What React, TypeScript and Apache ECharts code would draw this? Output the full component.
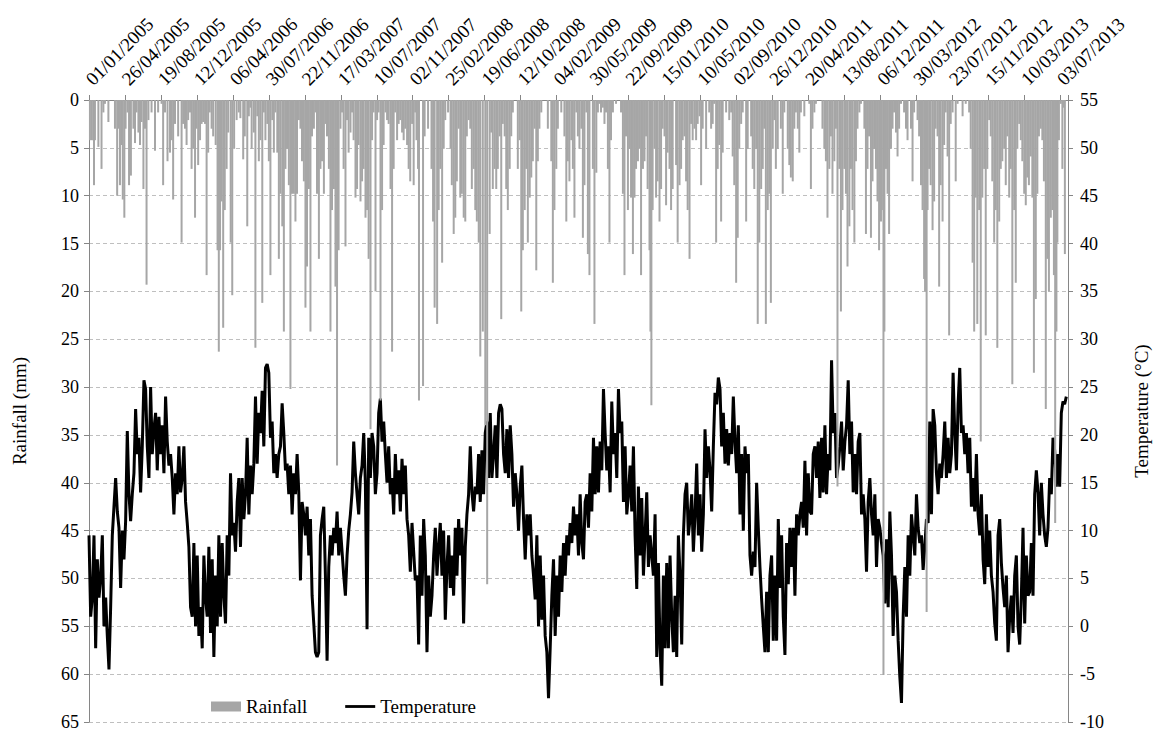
import React, { useEffect, useRef } from "react";
import * as echarts from "echarts";

// Day 0 = 01/01/2005; x values are day offsets from that date.
const START_DATE_UTC = Date.UTC(2005, 0, 1);
const TOTAL_DAYS = 3130;
const LABEL_EVERY_DAYS = 115;
// temperature readings are taken about every 5.32 days
const TEMP_STEP_DAYS = 5.323;

// Temperature (°C)
const tempSeg1 = [
  9.5, 1, 3, 9.5, -2.3, 7, 3, 5, 9.5, 0,
  3, -1, -4.5, 2, 9.5, 12.5, 15.5, 12, 10.3, 4,
  10, 7, 11, 20.4, 13.8, 11, 13.8, 16, 22.7, 18,
  19.7, 14, 18.8, 25.7, 24.8, 18.8, 15.5, 25, 18, 20.6,
  22.3, 16.3, 21.9, 18, 21, 16, 24, 19.3, 16.8, 18,
  15.5, 11.7, 16, 13.8, 18.8, 14, 15.5, 18.8, 13, 10.8,
  8.3, 2, 1, 8.7, 0, 7.4, -1, 2, -2.3, 7.4,
  3, 1, 8.3, -0.7, 7, -3.2, 5.3, 0, 9.5, 1,
  8.7, 3.2, 0.3, 9.5, 5.3, 16, 9.5, 10.8, 7.8, 13,
  15.5, 8.3, 15.5, 11.2, 13.8, 19.7, 11.7, 16.8,
];
const tempSeg2 = [
  13.8, 17, 24, 17, 22.3, 20.2, 24.6, 18.8, 27, 27.4,
  26.5, 19.7, 21.4, 16, 18, 15.5, 18, 18.8, 23.3, 20.2,
  16.3, 17, 13.8, 16.8, 11.7, 16, 13.8, 18, 14, 4.8,
  13, 11.7, 9.5, 12.5, 7.4, 11.2, 3.2, 0.3, -2.7, -3.2,
  -2.7, 9.5, 11.2, 12.5, 5.3, -3.6, 6.2, 9.5, 7.4, 10.3,
  8.7, 12, 7.4, 10.3, 7.8, 5.3, 3.2, 7.4, 10, 11.7,
  14, 19.3, 16, 13.8, 11.7, 15.5, 16.8, 20.2, 15, -0.3,
  19.7, 15.5, 20.2, 18.8, 13.8, 16, 22.3, 23.8, 19.3, 21.4,
  18, 15, 18.8, 13.8, 15.5, 11.7, 18, 13.8, 16.3, 12,
  17.5, 13.8, 16.8, 11.2, 9.5, 5.7, 10.8, 7.8, 4.8,
];
const tempSeg3 = [
  5.3, -1.9, 9.5, 3.2, 11.2, 7.4, -2.7, 5.3, 1, 3.2,
  7.4, 10.3, 5.3, 8.3, 10.8, 5.3, 10, 0.7, 6.2, 9.5,
  4, 7.4, 3.2, 10.3, 5.3, 11.2, 7.4, 10.3, 0.3, 8.3,
  11.7, 13.8, 18.8, 14, 12, 14.6, 13.8, 18, 13, 18.4,
  13.8, 20.2, 21.4, 15.5, 22.3, 15.5, 18, 21, 15.5, 22.3,
  23.2, 22.7, 18, 16, 20.6, 15.5, 21, 18, 12.5, 16,
  13.8, 10, 14.6, 16.8, 11.2, 7, 11.7, 9.5, 11.7, 7.4,
  5.3, 2.8, 9.5, 0, 7.4, 0.7, 5.3, -1, -2.7, -7.5,
  -2.3, 3.2, 7, -1, 5.3, 1, 7.4, 3.6, 8.7, 5.3,
  9.5, 7.4, 10.8, 8.7, 12.5, 9.5, 11.7, 7.4, 13.8,
];
const tempSeg4 = [
  8.7, 7, 13, 13.8, 10.3, 16, 12, 19.7, 13.8, 18.8,
  14, 19.3, 16.3, 24.8, 20.2, 16.3, 18.8, 14, 23.5, 18,
  20.2, 15.5, 24.8, 20.2, 21.4, 13, 18.8, 11.7, 13.8, 16.8,
  12, 18.8, 9.5, 3.9, 14.6, 7.4, 13.4, 5.3, 9.5, 14,
  6.2, 9.5, 7.4, 5.3, 11.7, -3.2, 6.6, -2.3, -6.2, 5.3,
  -2.3, 6.6, -2.3, 7.4, 1, -2.7, 3.2, -3.2, 9.5, 5.3,
  -1.9, 9.5, 13.8, 15, 9.5, 11.2, 13.8, 7.8, 11.7, 17,
  9.5, 13.8, 7.8, 11.7, 20.6, 15.5, 18.8, 16.3, 12, 18.8,
  24.4, 23.2, 26, 24.8, 18.8, 22.3, 17, 20.6, 16.8, 20.2,
  18, 24, 19.3, 16, 21, 11.7, 18, 10, 18.8,
];
const tempSeg5 = [
  16, 18, 7.4, 5.3, 7.8, 6.2, 15, 10.3, 6.2, 2.8,
  0, -2.7, 3.6, -2.7, 5.3, 7.4, -1.5, 5.3, -1.5, 11.2,
  4, 9.5, 1, -3, 8.7, 4.4, 10.3, 6.2, 10.3, 3.2,
  11.7, 9.5, 11.7, 13, 10.3, 17.3, 9.5, 16, 12, 11.7,
  18, 18.8, 15.5, 19.3, 13.4, 19.7, 14, 21, 13.8, 18,
  16.3, 27.8, 20.2, 22.3, 15.5, 16.8, 18.8, 21.4, 16.3, 19.3,
  21, 25.7, 18, 21.4, 14, 18, 13.8, 19.3, 20.2, 11.7,
  13.8, 11.2, 5.7, 13, 15.5, 11.7, 9.5, 13.8, 6.2, 11.2,
  10.3, 8.7, 7.4, 2.4, 9.1, 2, 12, 7.4, -1, 5.3,
  3.6, -1.5, -5.3, -8, 1, 6.2, 1, 9.5, 5.3,
];
const tempSeg6 = [
  11.7, 9.5, 7.4, 13.8, 10.3, 8.7, 9.5, 5.9, 8.3, 11.2,
  10.8, 21.4, 11.7, 22.7, 21, 16, 13.8, 17, 15.5, 18,
  21.4, 15.5, 19.7, 16, 18, 26.5, 20.2, 16.3, 23.2, 27,
  20.2, 21, 18, 20.2, 16, 19.7, 12.5, 15.5, 12, 18,
  11.7, 9.5, 13.8, 7, 4.4, 11.7, 6.2, 10, 5.3, 3.6,
  0.3, -1.5, 9.5, 11.2, 6.6, 4, 2, 5.3, -2.7, 1,
  3.2, -0.7, 5.3, 7.4, 0, -1.9, 3.2, 10.3, 0.3, 7.4,
  3.2, 3.6, 8.7, 3.2, 13.8, 16.3, 14, 9.5, 15, 11.7,
  9.5, 8.3, 10.3, 15.5, 13.8, 19.7, 18.4, 14.6, 18, 14.6,
  22.3, 23.5, 23.2, 24,
];

// Rainfall: [day offset, mm]
const rainSeg1 = [
  [3,4.2],[9,4.2],[14,4.2],[16,8.9],[19,4.2],[30,4.9],[40,7.2],[46,1.3],[51,0.4],[62,2.3],[83,3.0],[90,10.0],[94,3.0],[99,8.9],[104,4.7],[108,10.4],[113,12.3],[117,3.0],[123,1.3],[128,8.9],[134,7.9],[142,3.0],[147,4.5],[152,1.3],[158,3.4],[163,4.7],[168,2.3],[174,9.3],[179,3.0],[184,19.3],[190,2.1],[200,1.3],[211,5.3],[221,1.3],[232,0.4],[237,8.9],[243,1.3],[251,6.4],[259,5.5],[264,4.2],[269,10.4],[275,2.5],[285,3.8],[296,14.9],[301,2.5],[307,3.0],[312,4.7],[317,2.1],[323,1.3],[328,7.2],[333,5.1],[339,12.3],[344,3.0],[349,6.8],[355,4.2],[360,2.5],[365,2.3],[371,2.5],[376,18.3],[381,5.5],[386,1.3],[392,3.0],[397,3.8],[405,4.7],[411,15.7],[415,26.3],[419,15.7],[424,10.6],[429,23.8],[434,11.5],[440,7.2],[445,3.4],[453,14.9],[458,20.4],[464,5.1],[472,2.1],[479,1.3],[484,1.9],[493,6.2],[498,3.8],[506,13.2],[511,1.7],[516,0.8],
];
const rainSeg2 = [
  [520,5.1],[527,3.4],[532,25.9],[538,1.7],[543,6.4],[548,4.2],[554,21.2],[559,1.3],[564,4.2],[570,2.5],[575,6.4],[580,18.3],[586,2.1],[591,5.5],[596,1.3],[602,5.5],[607,16.6],[612,9.8],[618,13.2],[623,24.2],[628,7.2],[633,5.1],[639,8.9],[644,30.2],[649,9.8],[655,9.8],[660,12.7],[665,9.8],[671,2.1],[676,3.0],[681,6.4],[687,8.5],[692,21.7],[697,17.4],[703,9.3],[708,24.2],[713,3.8],[719,3.0],[724,1.3],[729,9.8],[735,16.6],[740,7.2],[745,6.4],[751,9.8],[756,2.5],[761,3.8],[767,7.2],[772,24.2],[777,11.5],[783,9.3],[788,19.5],[793,38.2],[798,15.7],[804,3.0],[809,1.3],[814,7.2],[820,15.3],[825,2.1],[830,5.5],[836,3.4],[841,1.3],[846,4.2],[852,10.2],[857,9.3],[862,4.7],[868,10.6],[873,8.5],[878,7.2],[884,12.3],[889,11.5],[894,16.6],[900,34.4],[905,4.2],[910,1.3],[916,20.0],[921,2.1],[926,1.3],[932,31.4],[937,11.5],[942,4.7],[948,1.3],[953,2.1],[958,2.5],[964,9.3],[969,26.3],[974,7.2],[979,1.3],[985,4.2],[990,2.5],[995,2.1],[1001,3.4],[1006,4.2],[1011,3.0],[1017,4.7],[1022,7.2],[1027,8.5],[1033,2.5],[1038,8.9],[1043,1.3],
];
const rainSeg3 = [
  [1047,4.2],[1052,7.2],[1055,31.4],[1068,29.9],[1073,3.8],[1084,3.0],[1095,7.2],[1100,12.7],[1105,21.7],[1113,23.4],[1118,11.5],[1123,7.2],[1129,17.0],[1134,5.1],[1139,2.1],[1148,1.3],[1156,5.1],[1160,8.9],[1166,14.0],[1171,12.3],[1176,8.5],[1182,3.0],[1187,10.2],[1192,9.8],[1198,12.3],[1203,12.7],[1208,3.8],[1214,2.1],[1219,3.0],[1224,9.3],[1230,7.2],[1235,11.5],[1240,12.7],[1246,14.9],[1251,26.8],[1259,24.2],[1267,34.0],[1273,50.6],[1281,14.0],[1286,3.4],[1291,9.3],[1297,7.2],[1302,9.3],[1307,7.2],[1313,3.8],[1318,22.9],[1323,2.5],[1329,3.8],[1334,9.3],[1339,11.5],[1345,7.2],[1350,3.8],[1355,1.3],[1371,7.2],[1377,4.2],[1382,22.1],[1387,15.7],[1393,11.5],[1398,7.2],[1403,14.9],[1409,10.2],[1414,8.1],[1419,6.4],[1425,3.0],[1430,17.8],[1435,6.4],[1440,3.0],[1446,1.3],[1467,3.0],[1478,6.4],[1483,19.1],[1488,11.5],[1494,7.2],[1499,3.0],[1510,1.3],[1520,3.8],[1526,12.7],[1531,6.4],[1536,8.5],[1542,4.2],[1547,7.2],[1552,12.3],[1558,1.3],[1563,3.8],[1568,5.1],
];
const rainSeg4 = [
  [1574,3.0],[1579,14.4],[1584,8.9],[1590,1.3],[1595,16.1],[1600,18.3],[1611,7.2],[1616,23.4],[1622,7.6],[1627,1.3],[1632,0.4],[1637,1.3],[1643,0.8],[1648,2.5],[1653,1.3],[1659,7.2],[1664,14.9],[1669,4.2],[1675,1.3],[1685,0.4],[1701,1.3],[1707,9.8],[1712,18.3],[1717,3.8],[1723,11.5],[1728,5.1],[1733,10.2],[1739,16.1],[1744,10.2],[1749,7.2],[1755,6.4],[1760,5.1],[1765,18.3],[1771,7.2],[1776,6.4],[1781,3.8],[1786,9.3],[1792,15.7],[1795,24.2],[1798,31.9],[1802,11.5],[1808,5.1],[1813,10.2],[1818,8.5],[1824,12.7],[1829,9.3],[1834,3.0],[1840,3.8],[1845,11.0],[1850,5.5],[1856,7.2],[1861,11.5],[1866,9.3],[1877,6.8],[1882,14.9],[1888,8.9],[1893,7.2],[1898,4.2],[1904,3.8],[1909,8.5],[1914,11.5],[1920,16.6],[1925,2.5],[1930,4.2],[1936,3.0],[1941,4.2],[1946,2.5],[1952,1.7],[1957,8.9],[1962,3.0],[1973,5.1],[1983,1.3],[1989,3.0],[1994,2.5],[1999,0.4],[2005,14.9],[2010,7.2],[2015,4.7],[2021,12.7],[2026,5.5],[2037,1.3],[2047,2.1],[2053,1.3],[2058,5.9],[2063,8.9],[2069,19.1],[2074,14.4],[2079,5.1],[2085,2.5],[2090,1.3],
];
const rainSeg5 = [
  [2101,12.7],[2106,5.1],[2117,3.8],[2122,7.2],[2127,9.3],[2133,5.1],[2138,23.4],[2143,14.9],[2149,9.3],[2154,7.2],[2159,3.0],[2164,23.4],[2170,11.5],[2175,9.8],[2180,21.2],[2186,5.1],[2191,2.1],[2196,7.2],[2202,5.1],[2212,3.0],[2218,9.8],[2223,1.3],[2234,5.1],[2239,6.8],[2244,8.1],[2250,8.5],[2255,3.0],[2260,1.3],[2266,3.0],[2271,5.5],[2276,1.3],[2287,1.7],[2303,0.4],[2308,9.3],[2313,3.0],[2319,1.3],[2324,0.4],[2345,3.0],[2351,5.1],[2356,6.4],[2361,12.3],[2367,7.2],[2372,3.8],[2377,9.8],[2383,6.4],[2388,3.0],[2393,40.4],[2399,7.2],[2404,22.1],[2409,11.5],[2415,7.2],[2420,9.8],[2425,17.4],[2431,13.2],[2436,7.2],[2441,11.5],[2447,14.9],[2452,6.4],[2457,3.0],[2463,1.3],[2468,0.4],[2479,3.0],[2484,14.0],[2489,7.2],[2494,3.8],[2500,14.4],[2505,8.5],[2510,5.1],[2516,7.2],[2521,10.6],[2526,15.7],[2532,12.7],[2535,11.5],[2540,60.1],[2543,24.2],[2548,7.2],[2553,9.8],[2558,14.0],[2564,5.1],[2569,3.0],[2574,1.3],[2580,3.4],[2585,5.9],[2590,3.0],[2596,0.4],[2606,1.3],[2612,3.0],[2617,4.2],
];
const rainSeg6 = [
  [2628,3.0],[2633,8.5],[2638,1.3],[2649,2.1],[2654,3.8],[2660,8.9],[2665,11.5],[2670,18.7],[2673,20.0],[2678,53.5],[2681,11.5],[2686,7.2],[2691,8.9],[2697,13.6],[2702,10.6],[2707,3.0],[2713,3.8],[2718,19.5],[2723,8.9],[2729,12.7],[2734,4.7],[2739,1.3],[2745,5.9],[2750,24.6],[2755,2.5],[2761,1.3],[2771,8.5],[2777,0.4],[2793,1.7],[2803,0.4],[2814,1.3],[2819,5.1],[2825,17.0],[2830,24.2],[2835,10.2],[2840,23.4],[2846,11.5],[2851,35.7],[2856,10.2],[2862,7.2],[2867,24.6],[2872,7.2],[2878,2.1],[2883,3.8],[2888,8.5],[2894,14.9],[2899,11.5],[2904,25.9],[2910,12.7],[2915,7.2],[2920,6.4],[2926,5.1],[2931,8.9],[2936,3.8],[2942,10.2],[2947,7.2],[2952,29.7],[2958,11.5],[2963,19.1],[2968,5.1],[2974,2.5],[2979,4.2],[2984,6.4],[2990,9.8],[2995,11.0],[3000,8.1],[3005,8.9],[3011,5.9],[3016,10.2],[3021,28.5],[3027,20.8],[3032,9.8],[3037,3.8],[3043,3.0],[3048,4.2],[3053,8.5],[3059,32.3],[3064,16.6],[3069,20.0],[3075,12.3],[3080,11.5],[3085,18.3],[3089,44.2],[3093,24.2],[3096,14.9],[3101,4.2],[3107,0.4],[3112,7.2],[3117,0.8],[3120,16.1],
];

const FONT = "'Liberation Serif', 'Times New Roman', serif";
const AXIS_GREY = "#868686";

function dayLabel(d: number): string {
  const dt = new Date(START_DATE_UTC + Math.round(d) * 86400000);
  const dd = String(dt.getUTCDate()).padStart(2, "0");
  const mm = String(dt.getUTCMonth() + 1).padStart(2, "0");
  return `${dd}/${mm}/${dt.getUTCFullYear()}`;
}

export default function App() {
  const ref = useRef<HTMLDivElement>(null);

  useEffect(() => {
    document.body.style.margin = "0";
    const chart = echarts.init(ref.current!, null, { renderer: "svg" });
    const temps = [...tempSeg1, ...tempSeg2, ...tempSeg3, ...tempSeg4, ...tempSeg5, ...tempSeg6];
    const tempData = temps.map((t, i) => [i * TEMP_STEP_DAYS, t]);
    const rainData = [...rainSeg1, ...rainSeg2, ...rainSeg3, ...rainSeg4, ...rainSeg5, ...rainSeg6];

    chart.setOption({
      animation: false,
      backgroundColor: "#ffffff",
      grid: { left: 89, right: 91, top: 100, bottom: 14, containLabel: false },
      legend: {
        left: 206,
        top: 692,
        itemWidth: 30,
        itemHeight: 10,
        itemGap: 38,
        data: [
          { name: "Rainfall", icon: "rect" },
          { name: "Temperature", icon: "path://M0,0 L32,0 L32,3 L0,3 Z" },
        ],
        textStyle: { fontFamily: FONT, fontSize: 19, color: "#000" },
      },
      xAxis: {
        type: "value",
        position: "top",
        min: 0,
        max: TOTAL_DAYS,
        interval: LABEL_EVERY_DAYS,
        axisLine: { show: true, lineStyle: { color: AXIS_GREY, width: 1 } },
        axisTick: { show: true, length: 5, lineStyle: { color: AXIS_GREY } },
        axisLabel: {
          rotate: 45,
          margin: 18,
          fontFamily: FONT,
          fontSize: 19,
          color: "#000",
          formatter: (v: number) => {
            const q = v / LABEL_EVERY_DAYS;
            return Math.abs(q - Math.round(q)) < 1e-6 ? dayLabel(v) : "";
          },
        },
        splitLine: { show: false },
      },
      yAxis: [
        {
          type: "value",
          position: "left",
          inverse: true,
          min: 0,
          max: 65,
          interval: 5,
          name: "Rainfall (mm)",
          nameLocation: "middle",
          nameGap: 60,
          nameTextStyle: { fontFamily: FONT, fontSize: 19, color: "#000" },
          axisLine: { show: true, lineStyle: { color: AXIS_GREY } },
          axisTick: { show: true, length: 5, lineStyle: { color: AXIS_GREY } },
          axisLabel: { margin: 10, fontFamily: FONT, fontSize: 18, color: "#000" },
          splitLine: { show: true, lineStyle: { color: "#bfbfbf", type: [4, 3], width: 1 } },
        },
        {
          type: "value",
          position: "right",
          min: -10,
          max: 55,
          interval: 5,
          name: "Temperature (°C)",
          nameLocation: "middle",
          nameGap: 64,
          nameTextStyle: { fontFamily: FONT, fontSize: 19, color: "#000" },
          axisLine: { show: true, lineStyle: { color: AXIS_GREY } },
          axisTick: { show: true, length: 5, lineStyle: { color: AXIS_GREY } },
          axisLabel: { margin: 12, fontFamily: FONT, fontSize: 18, color: "#000" },
          splitLine: { show: false },
        },
      ],
      series: [
        {
          name: "Temperature",
          type: "line",
          yAxisIndex: 1,
          data: tempData,
          symbol: "none",
          showSymbol: false,
          lineStyle: { color: "#000", width: 3 },
          itemStyle: { color: "#000" },
          z: 2,
        },
        {
          name: "Rainfall",
          type: "bar",
          yAxisIndex: 0,
          data: rainData,
          barWidth: 2,
          itemStyle: { color: "#a6a6a6" },
          z: 3,
        },
      ],
    });
    return () => chart.dispose();
  }, []);

  return <div ref={ref} style={{ width: 1159, height: 736 }} />;
}
